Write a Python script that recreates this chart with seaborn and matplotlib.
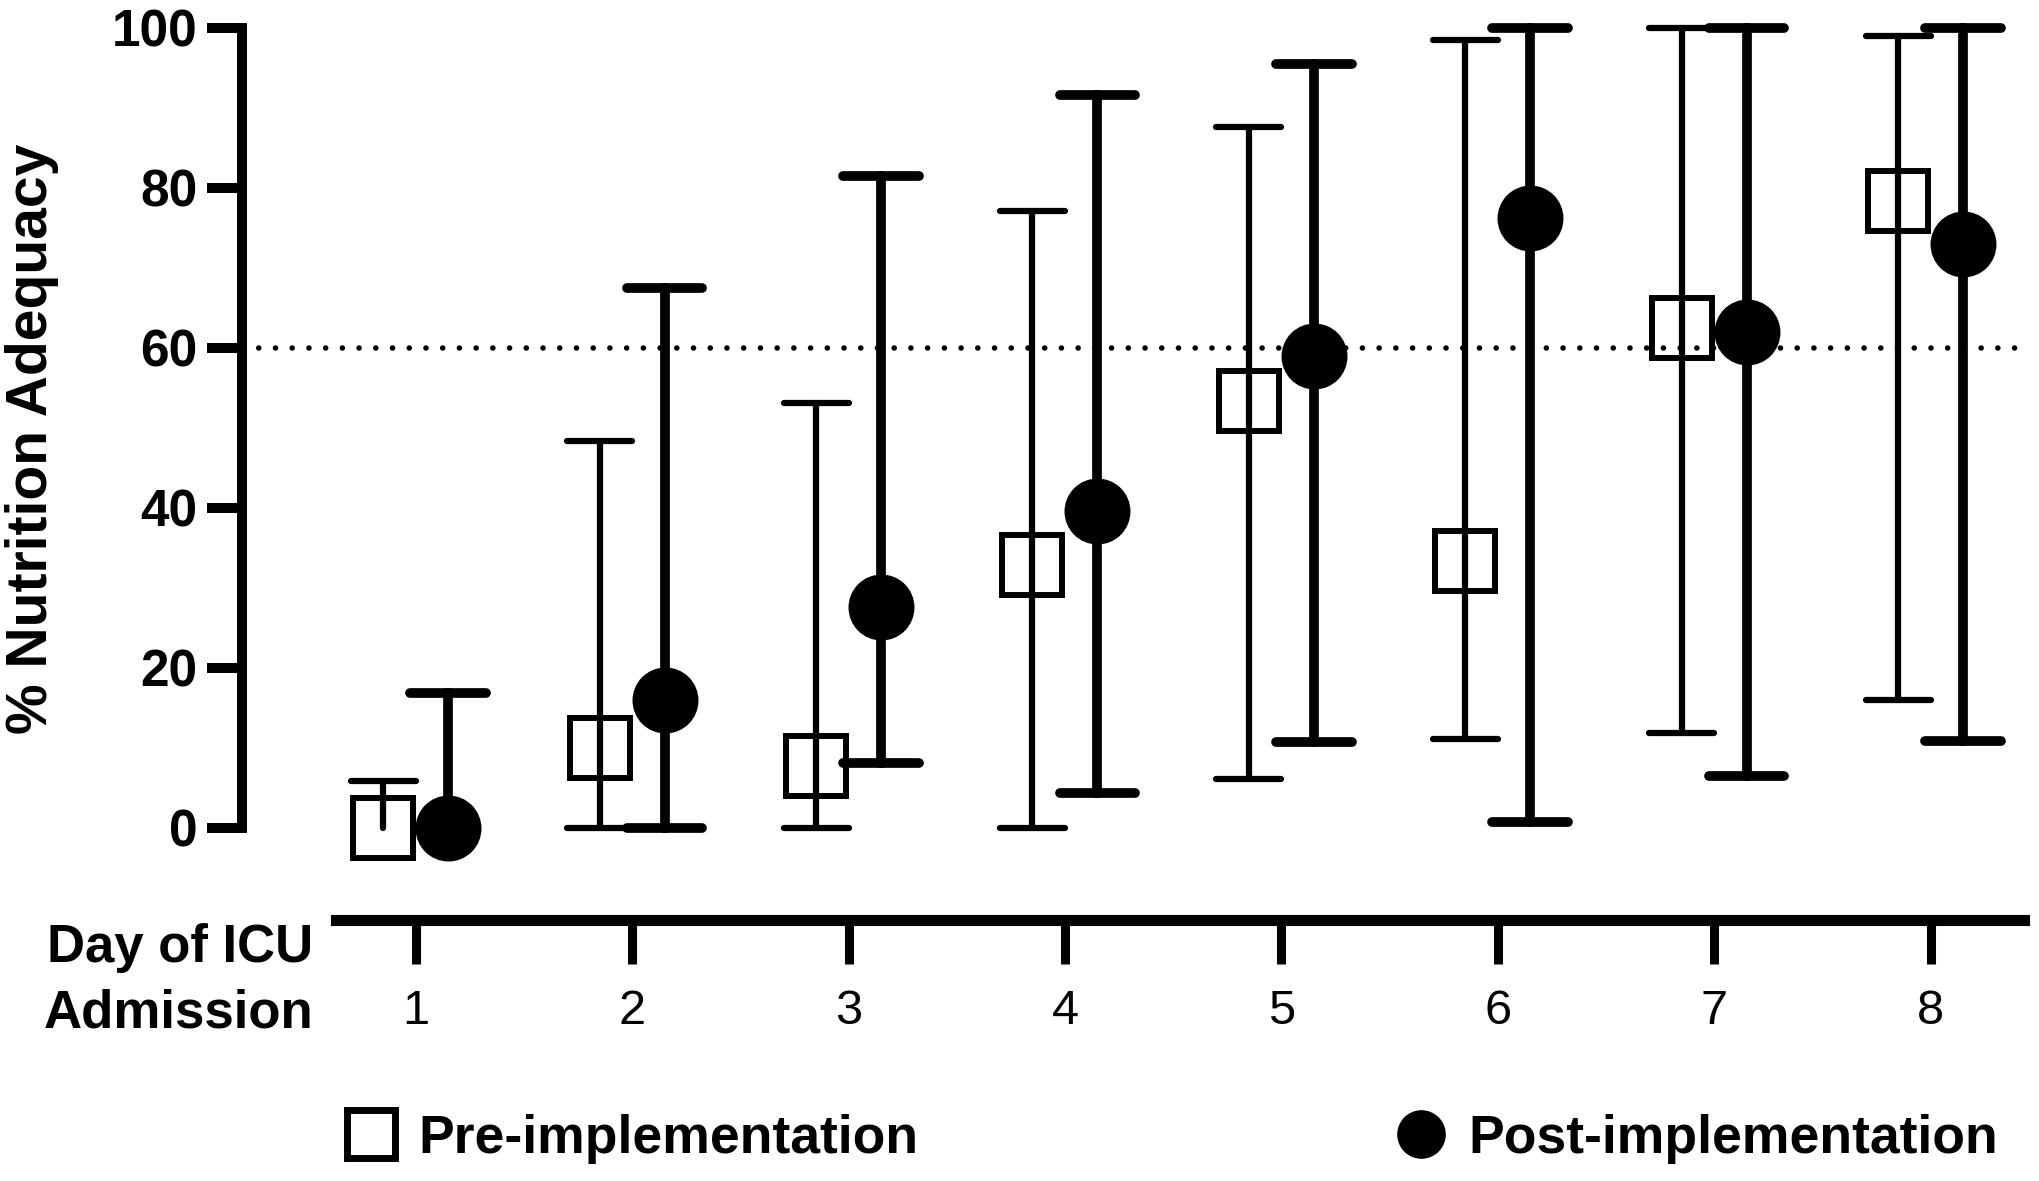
import matplotlib
matplotlib.use("Agg")
import matplotlib.pyplot as plt
from matplotlib.lines import Line2D
import numpy as np
import pandas as pd
import seaborn as sns

# ---------------- data ----------------
day_labels = ["1", "2", "3", "4", "5", "6", "7", "8"]
groups = ["Pre-implementation", "Post-implementation"]

pre_mean = [0, 10.0, 7.7, 32.8, 53.3, 33.3, 62.4, 78.3]
pre_low = [0, 0, 0, 0, 6.1, 11.1, 11.9, 16.0]
pre_high = [5.9, 48.3, 53.1, 77.1, 87.6, 98.4, 100, 98.9]

post_mean = [0, 16.0, 27.6, 39.6, 58.9, 76.2, 61.9, 72.9]
post_low = [0, 0, 8.1, 4.4, 10.7, 0.8, 6.5, 10.9]
post_high = [16.8, 67.5, 81.4, 91.6, 95.4, 100, 100, 100]

y_ticks = [0, 20, 40, 60, 80, 100]
target_line = 60

# long-form table: low / mean / high per day and group
rows = []
for g, lo, mu, hi in [(groups[0], pre_low, pre_mean, pre_high),
                      (groups[1], post_low, post_mean, post_high)]:
    for d, a, b, c in zip(day_labels, lo, mu, hi):
        for v in (a, b, c):
            rows.append({"day": d, "group": g, "value": v})
df = pd.DataFrame(rows)

# ---------------- style ----------------
sns.set_style("ticks")
plt.rcParams["font.family"] = ["Liberation Sans", "DejaVu Sans"]
plt.rcParams.update({"text.color": "black", "axes.labelcolor": "black",
                     "xtick.color": "black", "ytick.color": "black",
                     "axes.edgecolor": "black"})

W, H = 2040, 1181
fig = plt.figure(figsize=(W / 100, H / 100), dpi=100)
ax_left, ax_right = 242, 2024
ax_top, ax_bot = 3.5, 892
ax = fig.add_axes([ax_left / W, 1 - ax_bot / H,
                   (ax_right - ax_left) / W, (ax_bot - ax_top) / H])

rng_err = lambda v: (v.min(), v.max())

ax.axhline(target_line, color="black", lw=4, linestyle=(0, (0.01, 3.0)),
           dash_capstyle="round", zorder=1)


def draw_group(name, capsize, err_lw, ms, mew, mfc):
    n0 = len(ax.lines)
    sns.pointplot(data=df[df["group"] == name], x="day", y="value",
                  hue="group", hue_order=groups, order=day_labels,
                  palette=["black", "black"], estimator="median",
                  errorbar=rng_err, dodge=0.3, markers=["s", "o"],
                  linestyles="none", capsize=capsize,
                  err_kws={"linewidth": err_lw, "linestyle": "-",
                           "solid_capstyle": "round"},
                  markersize=ms, markeredgewidth=mew, markerfacecolor=mfc,
                  legend=False, ax=ax)
    new = ax.lines[n0:]
    pts = [ln for ln in new if ln.get_linestyle() in ("None", "none", "")
           and len(ln.get_xdata()) > 0]
    errs = [ln for ln in new if len(ln.get_xdata()) == 8]
    if pts:
        px = np.asarray(pts[0].get_xdata(), float)
        py = np.asarray(pts[0].get_ydata(), float)
        # no lower cap where the range starts at the point itself (zero-length bar)
        for ln in errs:
            x = np.asarray(ln.get_xdata(), float)
            y = np.asarray(ln.get_ydata(), float).copy()
            i = np.argmin(np.abs(px - x[3]))
            if np.isclose(y[0], py[i]):
                y[0:2] = np.nan
                ln.set_ydata(y)


# Pre-implementation: hollow squares, thinner bars
draw_group(groups[0], 0.30, 4.5, 43, 4.3, "none")
# Post-implementation: filled circles, thicker bars
draw_group(groups[1], 0.35, 7, 47.5, 0, "black")

# ---------------- axes ----------------
ax.set_xlim(-0.803, 7.432)
ax.set_ylim(-8, 103)
for s in ["top", "right"]:
    ax.spines[s].set_visible(False)

ax.spines["left"].set_bounds(0, 100)
ax.spines["left"].set_linewidth(7.2)
ax.spines["left"].set_capstyle("projecting")
ax.spines["bottom"].set_position(("outward", 20.5))
ax.spines["bottom"].set_bounds(-0.37, 7.432)
ax.spines["bottom"].set_linewidth(8)

ax.set_yticks(y_ticks)
ax.set_yticklabels([str(t) for t in y_ticks], fontsize=37, fontweight="bold")
ax.tick_params(axis="y", length=25, width=7.2, pad=7, color="black",
               labelcolor="black")

ax.set_xticks(range(len(day_labels)))
ax.set_xticklabels(day_labels, fontsize=35)
ax.tick_params(axis="x", length=32, width=6.5, pad=17, color="black",
               labelcolor="black")

ax.set_xlabel("")
ax.set_ylabel("% Nutrition Adequacy", fontsize=41, fontweight="bold",
              color="black")
ax.yaxis.set_label_coords(-0.1027, 0.51)

fig.text(313 / W, 1 - 962 / H, "Day of ICU", ha="right", va="baseline",
         fontsize=38, fontweight="bold")
fig.text(313 / W, 1 - 1027 / H, "Admission", ha="right", va="baseline",
         fontsize=38, fontweight="bold")

# ---------------- legend ----------------
handles = [
    Line2D([], [], marker="s", markersize=34.5, markeredgewidth=5,
           markerfacecolor="none", markeredgecolor="black", linestyle="none"),
    Line2D([], [], marker="o", markersize=35, markeredgewidth=0,
           markerfacecolor="black", markeredgecolor="black", linestyle="none"),
]
fig.legend(handles, groups, loc="center left",
           bbox_to_anchor=(344 / W, 1 - 1139 / H), ncol=2, frameon=False,
           handlelength=1.0, handletextpad=0.39, columnspacing=8.9,
           borderpad=0, borderaxespad=0,
           prop={"weight": "bold", "size": 38.5})

fig.savefig("out.png", dpi=100)
